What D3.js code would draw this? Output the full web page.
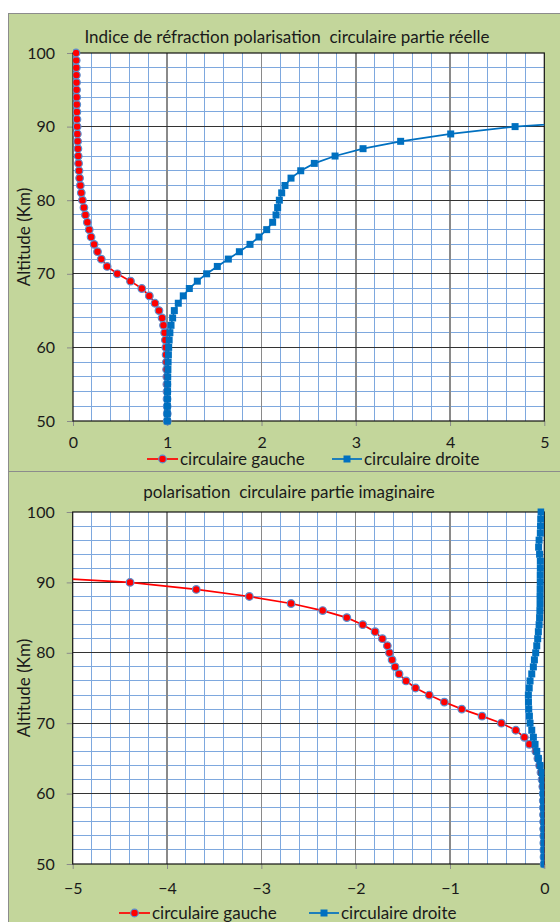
<!DOCTYPE html>
<html>
<head>
<meta charset="utf-8">
<script src="https://cdn.jsdelivr.net/npm/d3@7/dist/d3.min.js"></script>
<style>
  html, body { margin: 0; padding: 0; background: #ffffff; }
  svg { display: block; }
  text { font-family: Lato, "Open Sans", sans-serif; fill: #1a1a1a; white-space: pre; }
</style>
</head>
<body>
<svg id="chart" width="560" height="922"></svg>
<script>
// Altitudes (km) shared by every series
const altitudes = [50,51,52,53,54,55,56,57,58,59,60,61,62,63,64,65,66,67,68,69,70,
  71,72,73,74,75,76,77,78,79,80,81,82,83,84,85,86,87,88,89,90,
  91,92,93,94,95,96,97,98,99,100];

// Real part of the refractive index, left circular polarisation
const reelGauche = [1.000,1.000,0.999,0.998,0.997,0.996,0.995,0.993,0.991,0.988,0.985,
  0.980,0.972,0.960,0.945,0.912,0.870,0.810,0.730,0.610,0.470,
  0.362,0.300,0.260,0.224,0.192,0.172,0.152,0.132,0.116,0.100,
  0.088,0.078,0.070,0.064,0.059,0.055,0.052,0.049,0.046,0.044,
  0.042,0.041,0.040,0.039,0.038,0.037,0.036,0.035,0.034,0.032];

// Real part, right circular polarisation (leaves the axis range above 91 km)
const reelDroite = [1.000,1.000,1.001,1.002,1.003,1.004,1.005,1.007,1.009,1.012,1.015,
  1.020,1.028,1.040,1.057,1.075,1.117,1.170,1.234,1.319,1.418,
  1.531,1.648,1.765,1.878,1.973,2.055,2.118,2.154,2.171,2.189,
  2.214,2.249,2.313,2.416,2.560,2.780,3.077,3.476,4.007,4.690,
  5.840,null,null,null,null,null,null,null,null,null];

// Imaginary part, left circular polarisation (leaves the axis range above 91 km)
const imagGauche = [-0.002,-0.003,-0.004,-0.005,-0.006,-0.007,-0.008,-0.009,-0.010,-0.011,-0.012,
  -0.016,-0.024,-0.035,-0.050,-0.068,-0.090,-0.158,-0.211,-0.302,-0.455,
  -0.660,-0.875,-1.060,-1.220,-1.365,-1.466,-1.540,-1.582,-1.614,-1.642,
  -1.664,-1.717,-1.794,-1.925,-2.094,-2.350,-2.685,-3.127,-3.690,-4.392,
  -5.720,null,null,null,null,null,null,null,null,null];

// Imaginary part, right circular polarisation
const imagDroite = [-0.002,-0.002,-0.003,-0.003,-0.004,-0.004,-0.005,-0.006,-0.007,-0.008,-0.010,
  -0.012,-0.017,-0.027,-0.045,-0.063,-0.080,-0.098,-0.116,-0.133,-0.151,
  -0.158,-0.165,-0.168,-0.169,-0.160,-0.151,-0.133,-0.116,-0.105,-0.091,
  -0.080,-0.070,-0.063,-0.055,-0.050,-0.047,-0.045,-0.045,-0.044,-0.043,
  -0.043,-0.042,-0.042,-0.050,-0.060,-0.055,-0.042,-0.040,-0.038,-0.034];

const seriesNames = ["circulaire gauche", "circulaire droite"];
const titles = ["Indice de réfraction polarisation  circulaire partie réelle",
                "polarisation  circulaire partie imaginaire"];
const yLabel = "Altitude (Km)";
const yTicks = [50,60,70,80,90,100];
const xTicksTop = [0,1,2,3,4,5];
const xTicksBottom = [-5,-4,-3,-2,-1,0];

const svg = d3.select("#chart");

const panels = [
  { box: [8.5, 13.5, 600, 458], plot: { x0: 73, x1: 544.3, y0: 53, y1: 421 },
    xDomain: [0, 5], xTicks: xTicksTop, left: reelGauche, right: reelDroite,
    title: titles[0], titleXY: [287, 37], xLabelOff: 21.5,
    legendY: 459, legendX: [147, 332] },
  { box: [8.5, 471.5, 600, 480], plot: { x0: 72.7, x1: 544.3, y0: 512, y1: 864 },
    xDomain: [-5, 0], xTicks: xTicksBottom, left: imagGauche, right: imagDroite,
    title: titles[1], titleXY: [289, 492], xLabelOff: 24,
    legendY: 913, legendX: [119, 309] }
];

const red = "#ff0000", blue = "#0070c0", markerEdge = "#5a8fd0";
const labelSize = 16, textSize = 17;

panels.forEach((p, i) => {
  const g = svg.append("g");
  g.append("rect")
    .attr("x", p.box[0]).attr("y", p.box[1])
    .attr("width", p.box[2]).attr("height", p.box[3])
    .attr("fill", "#c3d69b").attr("stroke", "#8c8c8c").attr("stroke-width", 1);

  const x = d3.scaleLinear().domain(p.xDomain).range([p.plot.x0, p.plot.x1]);
  const y = d3.scaleLinear().domain([50, 100]).range([p.plot.y1, p.plot.y0]);

  // plot area
  g.append("rect")
    .attr("x", p.plot.x0).attr("y", p.plot.y0)
    .attr("width", p.plot.x1 - p.plot.x0).attr("height", p.plot.y1 - p.plot.y0)
    .attr("fill", "#ffffff");

  // minor grid: 0.2 in x, 2 km in y
  const xMinor = d3.range(0, 26).map(k => p.xDomain[0] + k * 0.2).filter(v => Math.abs(v - Math.round(v)) > 1e-6);
  const yMinor = d3.range(0, 26).map(k => 50 + k * 2).filter(v => v % 10 !== 0);
  const grid = g.append("g").attr("shape-rendering", "crispEdges");
  grid.selectAll(".xm").data(xMinor).join("line")
    .attr("x1", d => x(d)).attr("x2", d => x(d))
    .attr("y1", p.plot.y0).attr("y2", p.plot.y1)
    .attr("stroke", "#7ea8de").attr("stroke-width", 1);
  grid.selectAll(".ym").data(yMinor).join("line")
    .attr("y1", d => y(d)).attr("y2", d => y(d))
    .attr("x1", p.plot.x0).attr("x2", p.plot.x1)
    .attr("stroke", "#7ea8de").attr("stroke-width", 1);
  // major grid
  grid.selectAll(".xM").data(p.xTicks.slice(1, -1)).join("line")
    .attr("x1", d => x(d)).attr("x2", d => x(d))
    .attr("y1", p.plot.y0).attr("y2", p.plot.y1)
    .attr("stroke", "#8a8a8a").attr("stroke-width", 1.6);
  grid.selectAll(".yM").data(yTicks.slice(1, -1)).join("line")
    .attr("y1", d => y(d)).attr("y2", d => y(d))
    .attr("x1", p.plot.x0).attr("x2", p.plot.x1)
    .attr("stroke", "#333333").attr("stroke-width", 1);

  // axes
  const ya = g.append("g").attr("transform", `translate(${p.plot.x0},0)`)
    .call(d3.axisLeft(y).tickValues(yTicks).tickSize(6).tickPadding(12));
  ya.select(".domain").remove();
  ya.selectAll(".tick line").attr("stroke", "#8a8a8a");
  ya.selectAll("text").attr("font-size", labelSize).attr("font-family", "Lato").attr("fill", "#1a1a1a");

  const xa = g.append("g").attr("transform", `translate(0,${p.plot.y1})`)
    .call(d3.axisBottom(x).tickValues(p.xTicks).tickSize(5).tickFormat(d3.format("d")));
  xa.select(".domain").remove();
  xa.selectAll(".tick line").attr("stroke", "#8a8a8a");
  xa.selectAll("text").attr("y", p.xLabelOff).attr("dy", "0.36em")
    .attr("font-size", labelSize).attr("font-family", "Lato").attr("fill", "#1a1a1a");

  // plot border
  g.append("rect")
    .attr("x", p.plot.x0).attr("y", p.plot.y0)
    .attr("width", p.plot.x1 - p.plot.x0).attr("height", p.plot.y1 - p.plot.y0)
    .attr("fill", "none").attr("stroke", "#111111").attr("stroke-width", 1.2);

  // titles
  g.append("text").attr("x", p.titleXY[0]).attr("y", p.titleXY[1]).attr("dy", "0.36em")
    .attr("text-anchor", "middle").attr("font-size", textSize).text(p.title);
  g.append("text")
    .attr("transform", `translate(24,${(p.plot.y0 + p.plot.y1) / 2}) rotate(-90)`)
    .attr("dy", "0.36em").attr("text-anchor", "middle").attr("font-size", textSize).text(yLabel);

  // series
  const clipId = "clip" + i;
  svg.append("clipPath").attr("id", clipId).append("rect")
    .attr("x", p.plot.x0).attr("y", p.plot.y0 - 5)
    .attr("width", p.plot.x1 - p.plot.x0).attr("height", p.plot.y1 - p.plot.y0 + 10);
  const plotG = g.append("g").attr("clip-path", `url(#${clipId})`);

  const pts = vals => altitudes.map((a, k) => ({ a, v: vals[k] })).filter(d => d.v !== null);
  const line = d3.line().x(d => x(d.v)).y(d => y(d.a));

  const leftPts = pts(p.left), rightPts = pts(p.right);
  const inRange = d => d.v >= p.xDomain[0] && d.v <= p.xDomain[1];

  plotG.append("path").datum(leftPts).attr("d", line)
    .attr("fill", "none").attr("stroke", red).attr("stroke-width", 1.7);
  plotG.selectAll(".dotL").data(leftPts.filter(inRange)).join("circle")
    .attr("cx", d => x(d.v)).attr("cy", d => y(d.a)).attr("r", 3.8)
    .attr("fill", red).attr("stroke", markerEdge).attr("stroke-width", 1.2);

  plotG.append("path").datum(rightPts).attr("d", line)
    .attr("fill", "none").attr("stroke", blue).attr("stroke-width", 1.7);
  plotG.selectAll(".sqR").data(rightPts.filter(inRange)).join("rect")
    .attr("x", d => x(d.v) - 3.5).attr("y", d => y(d.a) - 3.5)
    .attr("width", 7).attr("height", 7).attr("fill", blue);

  // legend
  const lg = g.append("g");
  const lx0 = p.legendX[0], lx1 = p.legendX[1], ly = p.legendY;
  lg.append("line").attr("x1", lx0).attr("x2", lx0 + 31).attr("y1", ly).attr("y2", ly)
    .attr("stroke", red).attr("stroke-width", 1.7);
  lg.append("circle").attr("cx", lx0 + 15.5).attr("cy", ly).attr("r", 3.8)
    .attr("fill", red).attr("stroke", markerEdge).attr("stroke-width", 1.2);
  lg.append("text").attr("x", lx0 + 33).attr("y", ly).attr("dy", "0.36em")
    .attr("font-size", textSize).text(seriesNames[0]);
  lg.append("line").attr("x1", lx1).attr("x2", lx1 + 30).attr("y1", ly).attr("y2", ly)
    .attr("stroke", blue).attr("stroke-width", 1.7);
  lg.append("rect").attr("x", lx1 + 15 - 3.5).attr("y", ly - 3.5).attr("width", 7).attr("height", 7)
    .attr("fill", blue);
  lg.append("text").attr("x", lx1 + 32).attr("y", ly).attr("dy", "0.36em")
    .attr("font-size", textSize).text(seriesNames[1]);
});
</script>
</body>
</html>
